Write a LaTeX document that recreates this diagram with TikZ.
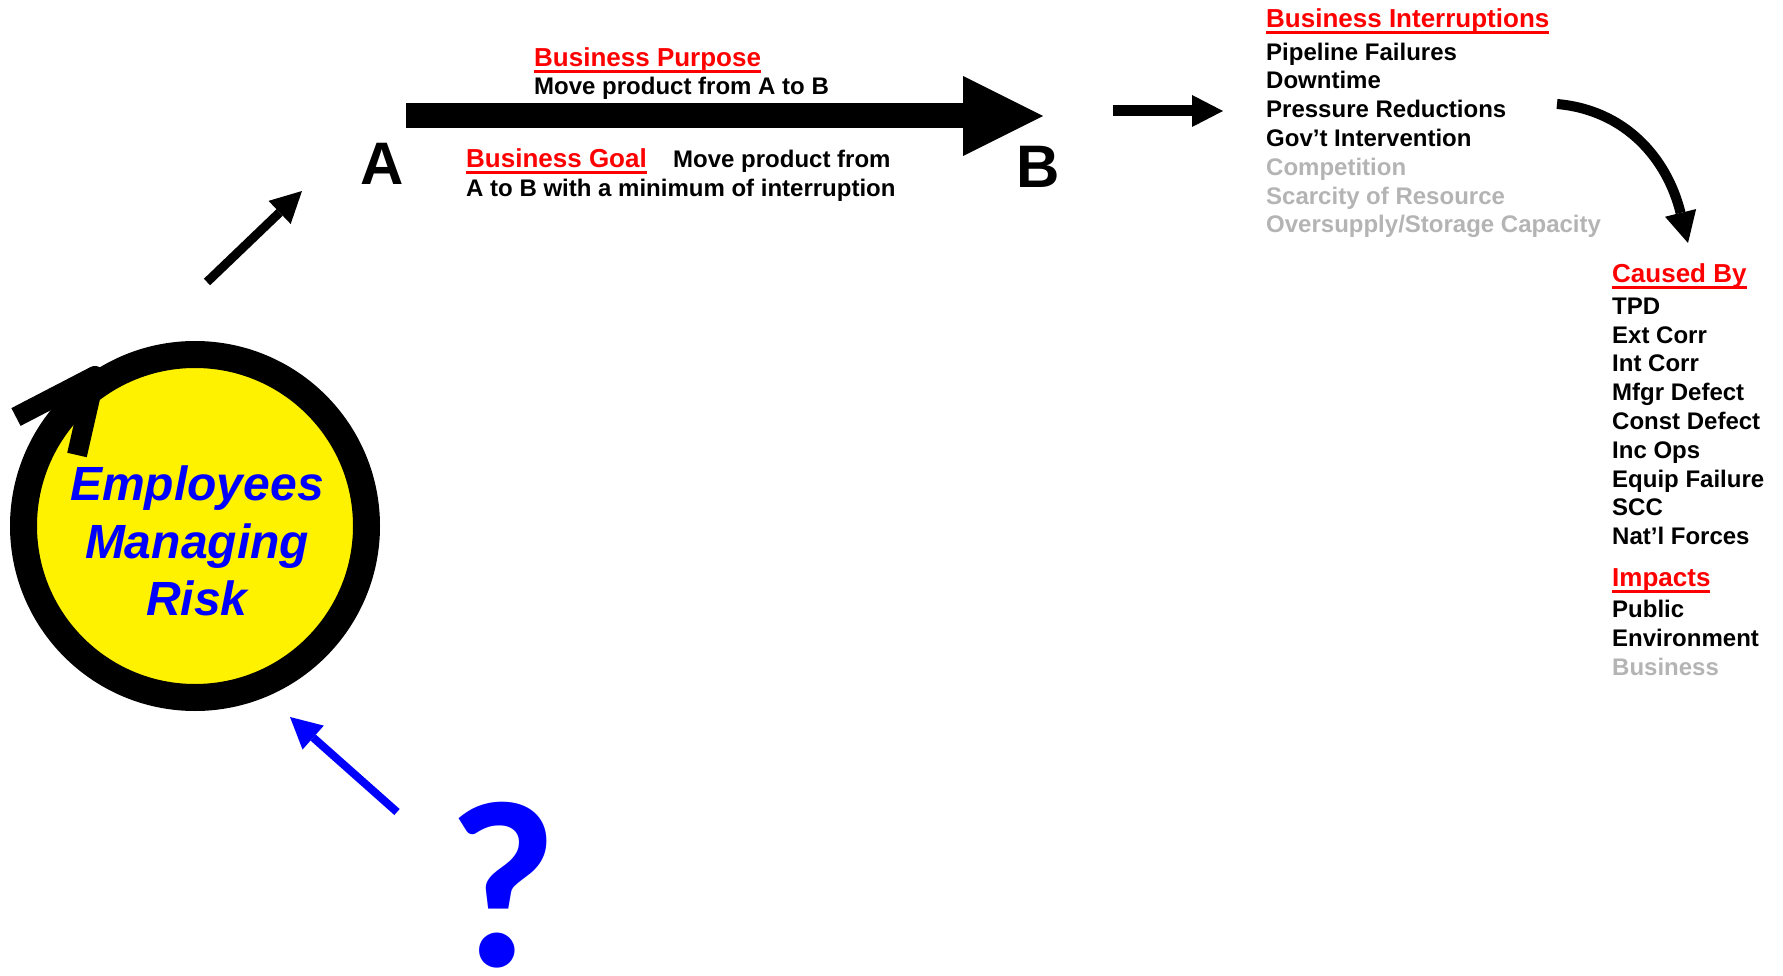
\documentclass[tikz,border=0pt]{standalone}
\usepackage{fontspec}
\setmainfont{Liberation Sans}
\newfontfamily\qmark{Carlito}
\usetikzlibrary{arrows.meta, matrix}
\definecolor{palegray}{RGB}{180,180,180}
\newcommand{\hd}[1]{{\fontsize{26}{29}\selectfont\color{red}\setbox0\hbox{#1}\rlap{\rule[-6.5pt]{\wd0}{3pt}}\box0}}

\begin{document}
\begin{tikzpicture}[x=1pt, y=-1pt,
  txt/.style={inner sep=0pt, anchor=base west, font=\bfseries\fontsize{24}{29}\selectfont},
  letter/.style={inner sep=0pt, anchor=base, font=\bfseries\fontsize{60}{60}\selectfont},
  list/.style={matrix of nodes, inner sep=0pt, row sep=4.8pt, nodes={txt, text height=19pt, text depth=5pt}},
  pale/.style={text=palegray},
  ring/.style={circle, draw, line width=27pt, fill=yellow, minimum size=343pt, inner sep=0pt},
  risk/.style={align=center, text=blue, inner sep=0pt, font=\bfseries\itshape\fontsize{48}{57.5}\selectfont},
  qm/.style={inner sep=0pt, anchor=base, text=blue, font=\qmark\bfseries\fontsize{238}{238}\selectfont},
  arr/.style={line width=9pt, -{Triangle[length=31pt, width=32pt, line width=0pt]}}]
\useasboundingbox (0,0) rectangle (1783,976);

\node[ring] (ring) at (195,526) {};
\coordinate (tip) at (95,376);
\draw[line width=20pt, line join=round] (16,417) -- (tip) -- (77,455);
\node[risk] (emr) at (197,541) {Employees\\Managing\\Risk};

\node[letter] (A) at (382,185) {A};
\node[letter] (B) at (1038,188) {B};
\coordinate (a1) at (406,116);
\coordinate (b1) at (1043,116);
\draw[line width=25pt, -{Triangle[length=80pt, width=80pt, line width=0pt]}] (a1) -- (b1);

\node[txt] (purpose) at (534,67) {\hd{Business Purpose}};
\node[txt] (purposetxt) at (534,95) {Move product from A to B};
\node[txt] (goal) at (466,168) {\hd{Business Goal}};
\node[txt] (goaltxt) at (673,168) {Move product from};
\node[txt] (goaltxt2) at (466,197) {A to B with a minimum of interruption};

\coordinate (r1) at (207,282);
\coordinate (r2) at (302,191);
\draw[arr] (r1) -- (r2);
\coordinate (f1) at (1113,111);
\coordinate (f2) at (1223,111);
\draw[arr, line width=11pt] (f1) -- (f2);
\coordinate (cv1) at (1557,104);
\coordinate (cv2) at (1688,243);
\draw[arr, line width=10pt] (cv1) .. controls (1625,110) and (1667,158) .. (cv2);

\matrix (interr) [list, anchor=north west] at (1266,8) {
\hd{Business Interruptions} \\[4.2pt]
Pipeline Failures \\
Downtime \\
Pressure Reductions \\
Gov’t Intervention \\
|[pale]| Competition \\
|[pale]| Scarcity of Resource \\
|[pale]| Oversupply/Storage Capacity \\
};

\matrix (causes) [list, anchor=north west] at (1612,263) {
\hd{Caused By} \\[3.2pt]
TPD \\
Ext Corr \\
Int Corr \\
Mfgr Defect \\
Const Defect \\
Inc Ops \\
Equip Failure \\
SCC \\
Nat’l Forces \\[13.2pt]
\hd{Impacts} \\[2.2pt]
Public \\
Environment \\
|[pale]| Business \\
};

\node[qm] (q) at (503,966) {?};
\coordinate (q1) at (397,812);
\coordinate (q2) at (290,717);
\draw[arr, blue, line width=8pt] (q1) -- (q2);
\end{tikzpicture}
\end{document}
